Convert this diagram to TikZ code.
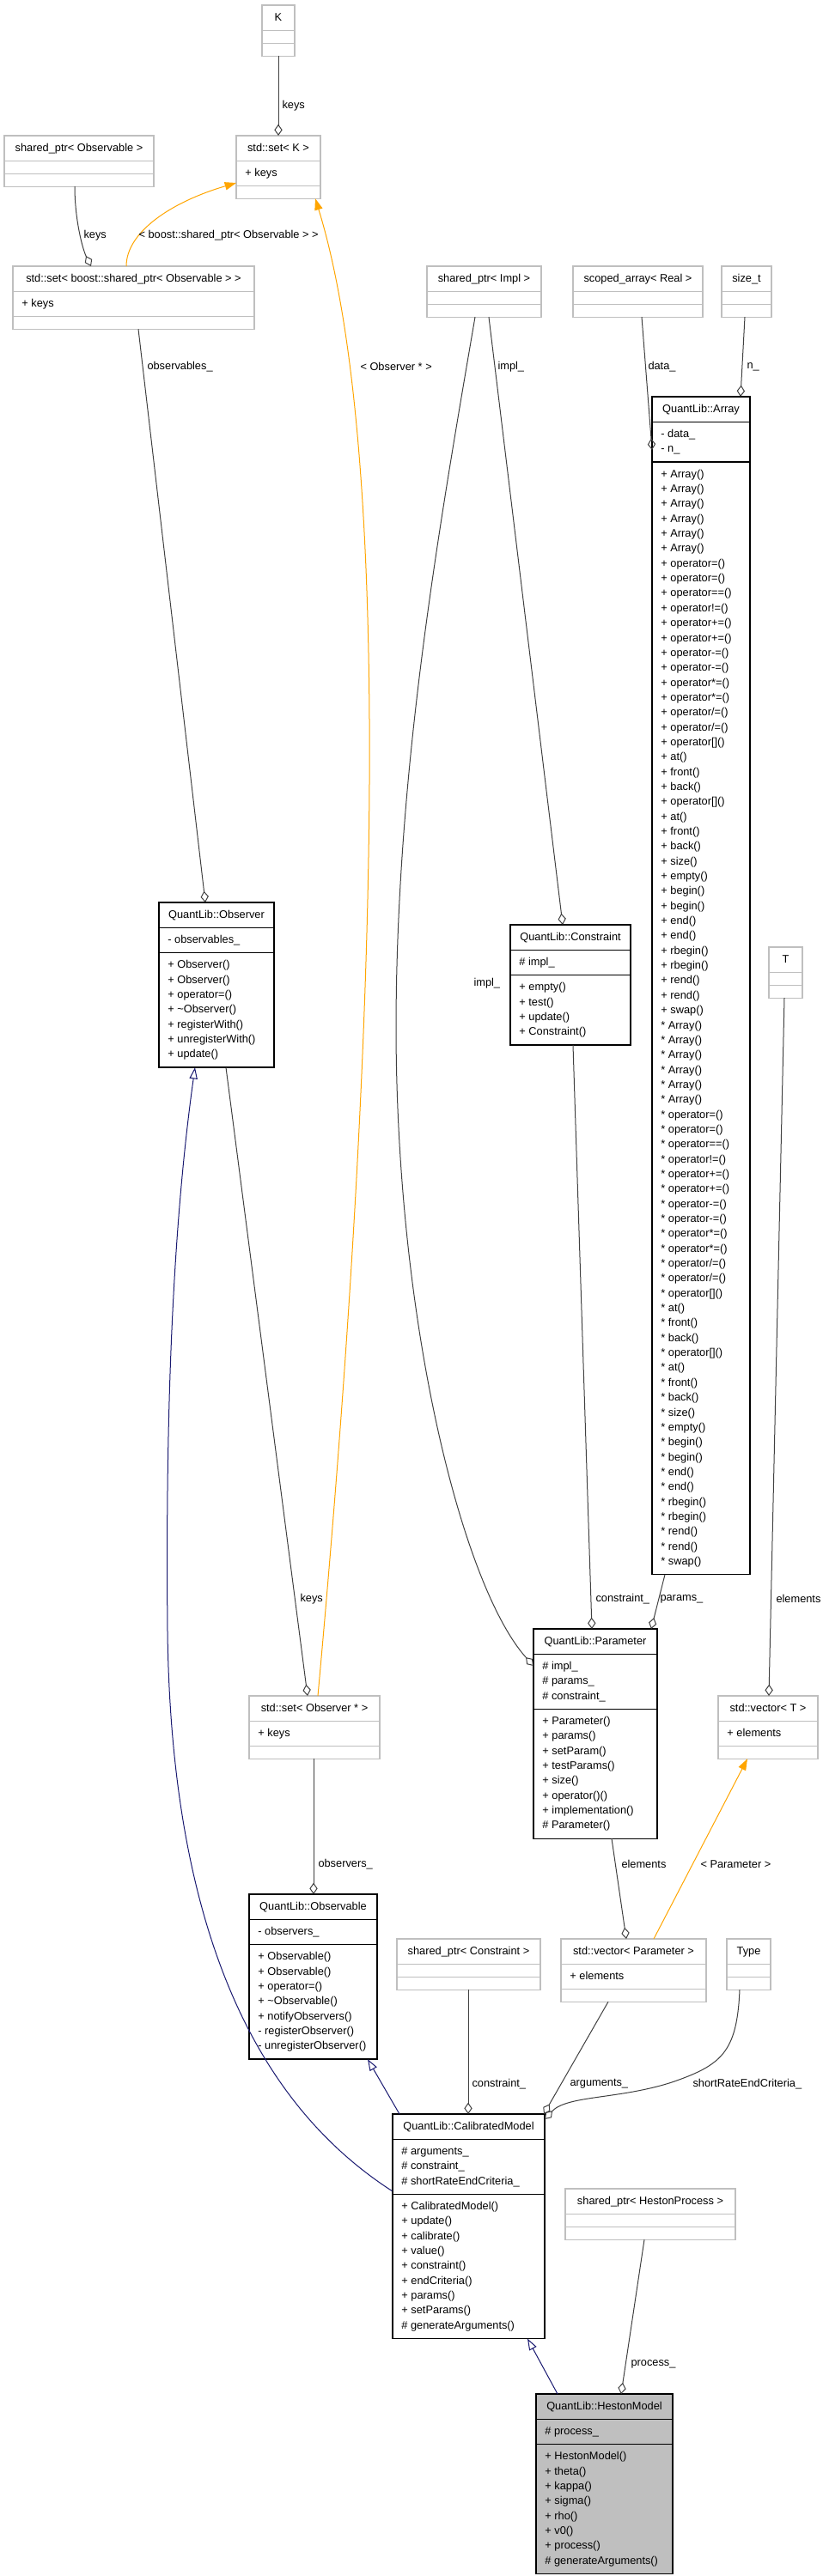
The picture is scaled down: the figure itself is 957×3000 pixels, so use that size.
\documentclass[tikz,border=0pt]{standalone}
\usepackage{fontspec}
\setmainfont{Liberation Sans}
\usetikzlibrary{shapes.multipart,arrows.meta,calc}
\definecolor{edgegray}{HTML}{404040}
\definecolor{boxgray}{HTML}{BFBFBF}
\definecolor{inhblue}{HTML}{191970}
\definecolor{tmplorange}{HTML}{FFA500}
\newcommand{\members}[1]{\begin{tabular}{@{}l@{}}#1\end{tabular}}

\begin{document}
\begin{tikzpicture}[x=0.75pt, y=-0.75pt,
  cls/.style={rectangle split, rectangle split parts=3, rectangle split part align={center,left,left},
    draw=black, line width=1pt, inner xsep=7.8pt, inner ysep=4pt, outer sep=0pt, anchor=north west,
    font=\fontsize{9.6}{13.01}\selectfont},
  ext/.style={cls, draw=boxgray, line width=0.8pt},
  main/.style={cls, fill=boxgray},
  member/.style={draw=edgegray, line width=0.75pt, -{Diamond[open, length=10pt, width=7pt]}},
  inherit/.style={draw=inhblue, line width=0.75pt, -{Triangle[open, length=10pt, width=7pt]}},
  tmpl/.style={draw=tmplorange, line width=0.75pt, -{Triangle[length=10pt, width=7pt, fill=tmplorange]}},
  lbl/.style={anchor=west, inner sep=0pt, font=\fontsize{9.6}{11}\selectfont}]
  \useasboundingbox (0,0) rectangle (957,3000);

  \node[ext, minimum width=28.5pt] (K) at (305,6) {\members{K}\nodepart{two}\members{}\nodepart{three}\members{}};
  \node[ext, minimum width=73.5pt] (setK) at (275,158) {\members{std::set< K >}\nodepart{two}\members{+ keys}\nodepart{three}\members{}};
  \node[ext, minimum width=130.5pt] (spObs) at (5,158) {\members{shared\_ptr< Observable >}\nodepart{two}\members{}\nodepart{three}\members{}};
  \node[ext, minimum width=210.75pt] (setSpObs) at (15,310) {\members{std::set< boost::shared\_ptr< Observable > >}\nodepart{two}\members{+ keys}\nodepart{three}\members{}};
  \node[ext, minimum width=99.75pt] (spImpl) at (497,310) {\members{shared\_ptr< Impl >}\nodepart{two}\members{}\nodepart{three}\members{}};
  \node[ext, minimum width=113.25pt] (scArr) at (667,310) {\members{scoped\_array< Real >}\nodepart{two}\members{}\nodepart{three}\members{}};
  \node[ext, minimum width=43.5pt] (sizeT) at (840,310) {\members{size\_t}\nodepart{two}\members{}\nodepart{three}\members{}};
  \node[cls, minimum width=85.5pt] (array) at (759,462) {\members{QuantLib::Array}\nodepart{two}\members{- data\_\\- n\_}\nodepart{three}\members{
    + Array()\\+ Array()\\+ Array()\\+ Array()\\+ Array()\\+ Array()\\
    + operator=()\\+ operator=()\\+ operator==()\\+ operator!=()\\
    + operator+=()\\+ operator+=()\\+ operator-=()\\+ operator-=()\\
    + operator*=()\\+ operator*=()\\+ operator/=()\\+ operator/=()\\
    + operator[]()\\+ at()\\+ front()\\+ back()\\
    + operator[]()\\+ at()\\+ front()\\+ back()\\
    + size()\\+ empty()\\+ begin()\\+ begin()\\+ end()\\+ end()\\
    + rbegin()\\+ rbegin()\\+ rend()\\+ rend()\\+ swap()\\
    {*} Array()\\{*} Array()\\{*} Array()\\{*} Array()\\{*} Array()\\{*} Array()\\
    {*} operator=()\\{*} operator=()\\{*} operator==()\\{*} operator!=()\\
    {*} operator+=()\\{*} operator+=()\\{*} operator-=()\\{*} operator-=()\\
    {*} operator*=()\\{*} operator*=()\\{*} operator/=()\\{*} operator/=()\\
    {*} operator[]()\\{*} at()\\{*} front()\\{*} back()\\
    {*} operator[]()\\{*} at()\\{*} front()\\{*} back()\\
    {*} size()\\{*} empty()\\{*} begin()\\{*} begin()\\{*} end()\\{*} end()\\
    {*} rbegin()\\{*} rbegin()\\{*} rend()\\{*} rend()\\{*} swap()}};
  \node[cls, minimum width=100.5pt] (observer) at (185,1051) {\members{QuantLib::Observer}\nodepart{two}\members{- observables\_}\nodepart{three}\members{+ Observer()\\+ Observer()\\+ operator=()\\+ \textasciitilde Observer()\\+ registerWith()\\+ unregisterWith()\\+ update()}};
  \node[cls, minimum width=105pt] (constraint) at (594,1077) {\members{QuantLib::Constraint}\nodepart{two}\members{\# impl\_}\nodepart{three}\members{+ empty()\\+ test()\\+ update()\\+ Constraint()}};
  \node[ext, minimum width=29.25pt] (T) at (895,1103) {\members{T}\nodepart{two}\members{}\nodepart{three}\members{}};
  \node[cls, minimum width=108pt] (parameter) at (621,1897) {\members{QuantLib::Parameter}\nodepart{two}\members{\# impl\_\\\# params\_\\\# constraint\_}\nodepart{three}\members{+ Parameter()\\+ params()\\+ setParam()\\+ testParams()\\+ size()\\+ operator()()\\+ implementation()\\\# Parameter()}};
  \node[ext, minimum width=114pt] (setObsPtr) at (290,1975) {\members{std::set< Observer * >}\nodepart{two}\members{+ keys}\nodepart{three}\members{}};
  \node[ext, minimum width=87pt] (vecT) at (836,1975) {\members{std::vector< T >}\nodepart{two}\members{+ elements}\nodepart{three}\members{}};
  \node[cls, minimum width=111.75pt] (observable) at (290,2206) {\members{QuantLib::Observable}\nodepart{two}\members{- observers\_}\nodepart{three}\members{+ Observable()\\+ Observable()\\+ operator=()\\+ \textasciitilde Observable()\\+ notifyObservers()\\- registerObserver()\\- unregisterObserver()}};
  \node[ext, minimum width=125.25pt] (spCons) at (462,2258) {\members{shared\_ptr< Constraint >}\nodepart{two}\members{}\nodepart{three}\members{}};
  \node[ext, minimum width=126.75pt] (vecPar) at (653,2258) {\members{std::vector< Parameter >}\nodepart{two}\members{+ elements}\nodepart{three}\members{}};
  \node[ext, minimum width=38.25pt] (type) at (846,2258) {\members{Type}\nodepart{two}\members{}\nodepart{three}\members{}};
  \node[cls, minimum width=132.75pt] (calib) at (457,2462) {\members{QuantLib::CalibratedModel}\nodepart{two}\members{\# arguments\_\\\# constraint\_\\\# shortRateEndCriteria\_}\nodepart{three}\members{+ CalibratedModel()\\+ update()\\+ calibrate()\\+ value()\\+ constraint()\\+ endCriteria()\\+ params()\\+ setParams()\\\# generateArguments()}};
  \node[ext, minimum width=148.5pt] (spHP) at (658,2549) {\members{shared\_ptr< HestonProcess >}\nodepart{two}\members{}\nodepart{three}\members{}};
  \node[main, minimum width=119.25pt] (heston) at (624,2788) {\members{QuantLib::HestonModel}\nodepart{two}\members{\# process\_}\nodepart{three}\members{+ HestonModel()\\+ theta()\\+ kappa()\\+ sigma()\\+ rho()\\+ v0()\\+ process()\\\# generateArguments()}};

  \draw[member] (K.south) -- (setK.north) node[lbl] at (328,123) {keys};
  \draw[member] ($(spObs.south west)+(82,0)$) .. controls +(0,38) and +(-10,-20) .. ($(setSpObs.north west)+(91,0)$) node[lbl] at (97,274) {keys};
  \draw[tmpl] ($(setSpObs.north west)+(132,0)$) .. controls +(0,-40) and +(-75,22) .. ($(setK.north west)+(0,55)$) node[lbl] at (161,274) {< boost::shared\_ptr< Observable > >};
  \draw[tmpl] ($(setObsPtr.north west)+(80,0)$) .. controls (450,1100) and (450,500) .. ($(setK.south west)+(92,0)$) node[lbl] at (419,427) {< Observer * >};
  \draw[member] ($(spImpl.south west)+(72,0)$) -- ($(constraint.north west)+(61,0)$) node[lbl] at (579,427) {impl\_};
  \draw[member] ($(spImpl.south west)+(56,0)$) .. controls (510,620) and (461,900) .. (461,1200) .. controls (462,1550) and (540,1850) .. ($(parameter.north west)+(0,43)$) node[lbl] at (551,1145) {impl\_};
  \draw[member] ($(scArr.south west)+(80,0)$) -- ($(array.north west)+(0,62)$) node[lbl] at (754,427) {data\_};
  \draw[member] ($(sizeT.south west)+(27,0)$) -- ($(array.north west)+(103,0)$) node[lbl] at (869,427) {n\_};
  \draw[member] ($(setSpObs.south west)+(146,0)$) -- ($(observer.north west)+(54,0)$) node[lbl] at (171,427) {observables\_};
  \draw[member] ($(observer.south west)+(78,0)$) -- ($(setObsPtr.north west)+(68,0)$) node[lbl] at (349,1862) {keys};
  \draw[member] ($(constraint.south west)+(73,0)$) -- ($(parameter.north west)+(68,0)$) node[lbl] at (693,1862) {constraint\_};
  \draw[member] ($(array.south west)+(15,0)$) -- ($(parameter.north west)+(137,0)$) node[lbl] at (768,1862) {params\_};
  \draw[member] ($(T.south west)+(18,0)$) -- ($(vecT.north west)+(59,0)$) node[lbl] at (903,1862) {elements};
  \draw[member] ($(setObsPtr.south west)+(75,0)$) -- ($(observable.north west)+(75,0)$) node[lbl] at (370,2171) {observers\_};
  \draw[member] ($(parameter.south west)+(91,0)$) -- ($(vecPar.north west)+(76,0)$) node[lbl] at (723,2171) {elements};
  \draw[tmpl] ($(vecPar.north west)+(108,0)$) -- ($(vecT.south west)+(34,0)$) node[lbl] at (815,2171) {< Parameter >};
  \draw[inherit] ($(calib.north west)+(8,0)$) -- ($(observable.south west)+(138,0)$);
  \draw[inherit] ($(calib.north west)+(0,90)$) .. controls (330,2470) and (200,2300) .. (195,1900) .. controls (192,1600) and (205,1400) .. ($(observer.south west)+(42,0)$);
  \draw[member] ($(spCons.south west)+(83,0)$) -- ($(calib.north west)+(88,0)$) node[lbl] at (549,2427) {constraint\_};
  \draw[member] ($(vecPar.south west)+(55,0)$) -- ($(calib.north east)+(-1,0)$) node[lbl] at (663,2427) {arguments\_};
  \draw[member] ($(type.south west)+(15,0)$) .. controls (858,2390) and (840,2405) .. (782,2425) .. controls (720,2445) and (660,2440) .. ($(calib.north east)+(0,6)$) node[lbl] at (806,2427) {shortRateEndCriteria\_};
  \draw[inherit] ($(heston.north west)+(25,0)$) -- ($(calib.south west)+(157,0)$);
  \draw[member] ($(spHP.south west)+(92,0)$) -- ($(heston.north west)+(99,0)$) node[lbl] at (734,2753) {process\_};
\end{tikzpicture}
\end{document}
